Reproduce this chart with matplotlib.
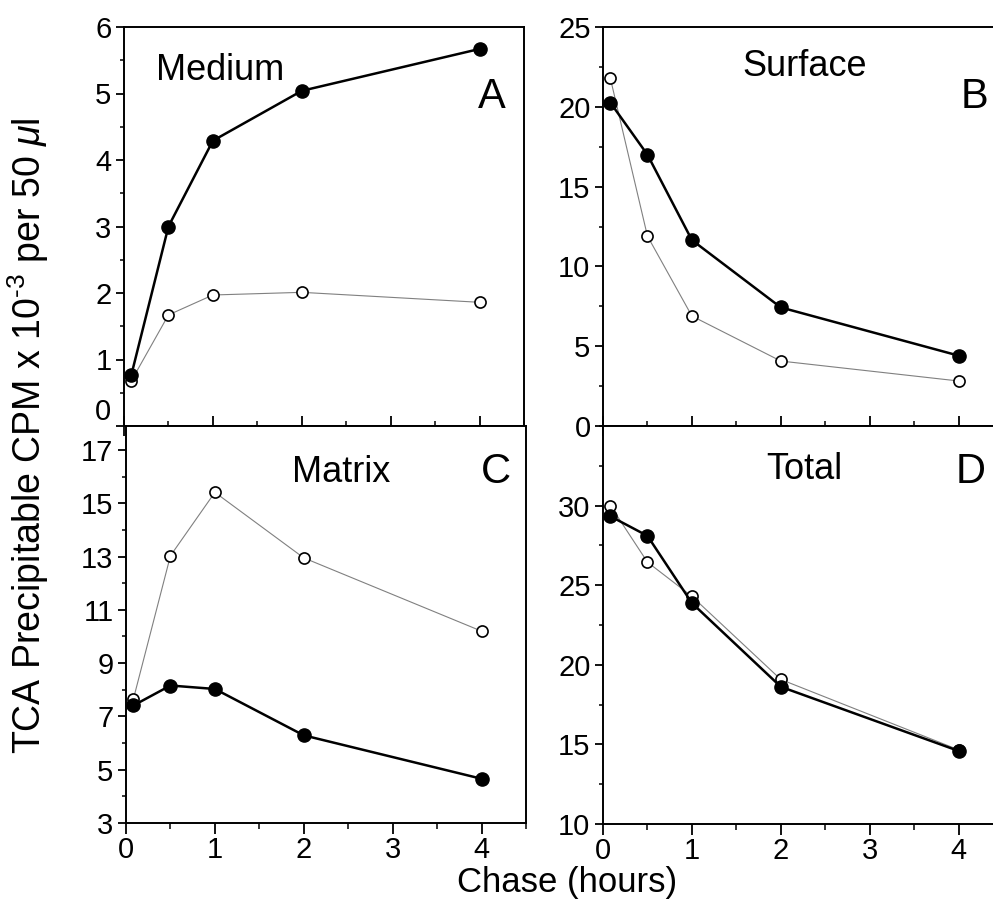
import matplotlib
matplotlib.use("Agg")
import matplotlib.pyplot as plt
from matplotlib.ticker import MultipleLocator

plt.rcParams['font.family'] = ['Liberation Sans', 'DejaVu Sans']
plt.rcParams['mathtext.fontset'] = 'custom'
plt.rcParams['mathtext.rm'] = 'Liberation Sans'
plt.rcParams['mathtext.it'] = 'Liberation Sans:italic'

chase_hours = [0.083, 0.5, 1, 2, 4]

medium_filled = [0.77, 3.0, 4.29, 5.04, 5.67]
medium_open = [0.68, 1.67, 1.97, 2.01, 1.86]
surface_filled = [20.26, 17.0, 11.65, 7.43, 4.41]
surface_open = [21.78, 11.9, 6.89, 4.07, 2.82]
matrix_filled = [7.41, 8.16, 8.03, 6.29, 4.66]
matrix_open = [7.65, 13.03, 15.41, 12.95, 10.2]
total_filled = [29.33, 28.1, 23.88, 18.62, 14.59]
total_open = [30.0, 26.45, 24.3, 19.08, 14.66]

panel_titles = ["Medium", "Surface", "Matrix", "Total"]
panel_letters = ["A", "B", "C", "D"]
x_ticks = [0, 1, 2, 3, 4]

W, H = 993, 909
fig = plt.figure(figsize=(W / 100, H / 100), dpi=100)

def rect(l, t, r, b):
    return [l / W, 1 - b / H, (r - l) / W, (b - t) / H]

axA = fig.add_axes(rect(124, 27, 524, 426))
axB = fig.add_axes(rect(603, 27, 1003, 426))
axC = fig.add_axes(rect(126, 426, 526, 823))
axD = fig.add_axes(rect(603, 426, 1003, 824))

specs = [
    (axA, medium_filled, medium_open, (0, 6), 0.5, [0, 1, 2, 3, 4, 5, 6]),
    (axB, surface_filled, surface_open, (0, 25), 2.5, [0, 5, 10, 15, 20, 25]),
    (axC, matrix_filled, matrix_open, (3, 17.9), 1, [3, 5, 7, 9, 11, 13, 15, 17]),
    (axD, total_filled, total_open, (10, 35), 2.5, [10, 15, 20, 25, 30]),
]

title_pos = [(220, 70), (805, 67), (341, 472), (804, 470)]
letter_pos = [(506, 97), (988, 97), (511, 472), (986, 472)]

for i, (ax, yf, yo, ylim, mnr, yt) in enumerate(specs):
    ax.plot(chase_hours, yo, color='#808080', lw=0.8, marker='o', ms=8,
            mfc='white', mec='black', mew=1.2, zorder=3)
    ax.plot(chase_hours, yf, color='black', lw=1.8, marker='o', ms=9.5,
            mfc='black', mec='black', zorder=4)
    ax.set_xlim(0, 4.5)
    ax.set_ylim(*ylim)
    ax.set_yticks(yt)
    ax.yaxis.set_minor_locator(MultipleLocator(mnr))
    ax.set_xticks(x_ticks)
    ax.xaxis.set_minor_locator(MultipleLocator(0.5))
    for s in ax.spines.values():
        s.set_linewidth(1.4)
    ax.tick_params(axis='y', which='major', direction='out', length=6, width=1.3,
                   labelsize=21, pad=3)
    ax.tick_params(axis='y', which='minor', direction='out', length=3, width=1.1)
    if i < 2:
        ax.tick_params(axis='x', which='major', direction='inout', length=14, width=1.3,
                       labelbottom=False)
        ax.tick_params(axis='x', which='minor', direction='inout', length=7, width=1.1)
    else:
        ax.tick_params(axis='x', which='major', direction='out', length=8, width=1.3,
                       labelsize=21, pad=1.5)
        ax.tick_params(axis='x', which='minor', direction='out', length=4, width=1.1)
    tx, ty = title_pos[i]
    fig.text(tx / W, 1 - ty / H, panel_titles[i], fontsize=26, ha='center', va='center')
    lx, ly = letter_pos[i]
    fig.text(lx / W, 1 - ly / H, panel_letters[i], fontsize=30, ha='right', va='center')

# lift the "0" label of panel A so it clears the "17" of panel C
axA.yaxis.get_major_ticks()[0].label1.set_verticalalignment('bottom')

fig.text(28 / W, 1 - 436 / H,
         r"TCA Precipitable CPM x 10$^{\text{-}3}$ per 50 $\mathit{\mu}$l",
         fontsize=27, rotation=90, ha='center', va='center')

# place the x label just under the tick labels
fig.canvas.draw()
bb = axD.get_xticklabels()[0].get_window_extent()
fig.text(567 / W, (bb.y0 - 1) / H, "Chase (hours)", fontsize=25, ha='center', va='top')

fig.savefig("out.png", dpi=100)
